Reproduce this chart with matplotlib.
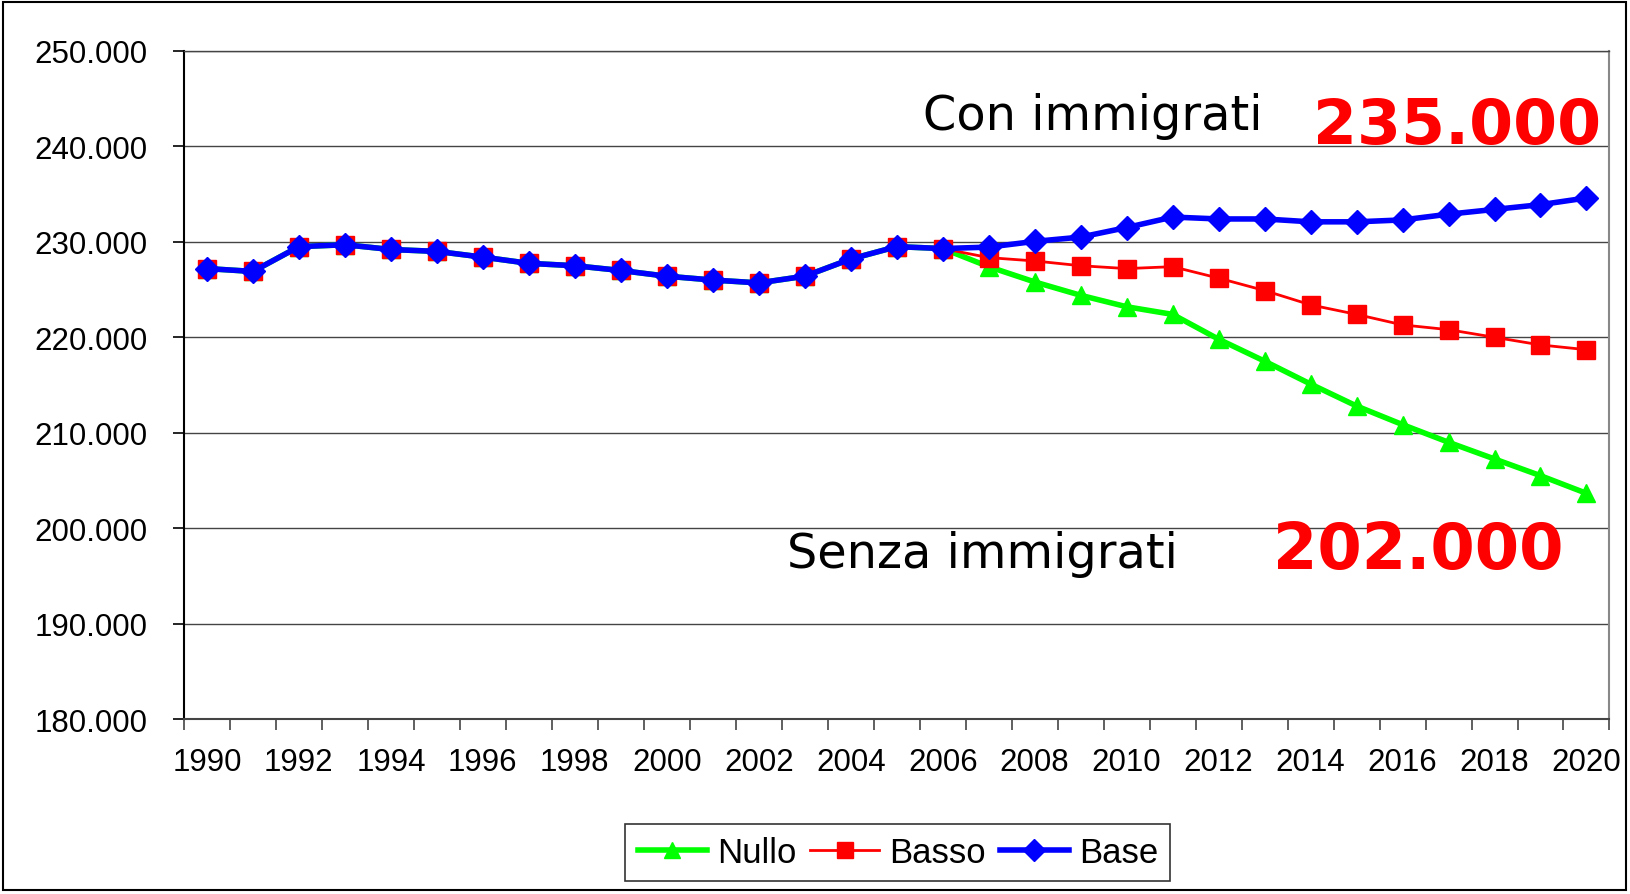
import matplotlib.pyplot as plt
from matplotlib.patches import Rectangle
from matplotlib.ticker import FuncFormatter

years = list(range(1990, 2021))

# 1990-2006: dati storici (uguali per tutti gli scenari)
storico = [227.2, 226.9, 229.5, 229.7, 229.2, 229.0, 228.4, 227.75, 227.5, 227.0,
           226.4, 226.0, 225.7, 226.4, 228.2, 229.5, 229.3]
# 2007-2020: proiezioni
base_proj = [229.45, 230.05, 230.5, 231.5, 232.6, 232.4, 232.4, 232.1, 232.1, 232.3,
             232.9, 233.4, 233.9, 234.6]
basso_proj = [228.35, 228.0, 227.5, 227.2, 227.4, 226.2, 224.9, 223.4, 222.4, 221.3,
              220.8, 220.0, 219.2, 218.7]
nullo_proj = [227.4, 225.8, 224.4, 223.2, 222.4, 219.8, 217.5, 215.1, 212.8, 210.85,
              209.0, 207.25, 205.5, 203.65]

base = [v * 1000 for v in storico + base_proj]
basso = [v * 1000 for v in storico + basso_proj]
nullo = [v * 1000 for v in storico + nullo_proj]

fig = plt.figure(figsize=(16.31, 8.95), dpi=100)
ax = fig.add_axes([0.1128, 0.1955, 0.8740, 0.7464])

x = list(range(len(years)))
ax.plot(x, nullo, color='#00FF00', lw=4, marker='^', ms=13, label='Nullo', zorder=3)
ax.plot(x, basso, color='#FF0000', lw=2, marker='s', ms=13, label='Basso', zorder=4)
ax.plot(x, base, color='#0000FF', lw=4, marker='D', ms=12, label='Base', zorder=5)

ax.set_xlim(-0.5, len(years) - 0.5)
ax.set_ylim(180000, 250000)
ax.set_yticks(range(180000, 250001, 10000))
ax.yaxis.set_major_formatter(FuncFormatter(lambda v, p: f"{int(v):,}".replace(",", ".")))

ax.set_xticks([i - 0.5 for i in range(len(years) + 1)])
ax.set_xticklabels([])
ax.set_xticks(x[::2], minor=True)
ax.set_xticklabels([str(y) for y in years[::2]], minor=True)

ax.tick_params(axis='x', which='major', direction='out', length=8, width=1.2, color='#444444')
ax.tick_params(axis='x', which='minor', length=0, pad=20, labelsize=22.5)
ax.tick_params(axis='y', direction='out', length=8, width=1.2, pad=18, labelsize=22.5)
for lab in ax.get_xticklabels(minor=True) + ax.get_yticklabels():
    lab.set_fontfamily('Liberation Sans')

ax.grid(axis='y', color='#444444', lw=1)
ax.set_axisbelow(True)
ax.spines['left'].set_color('black')
ax.spines['left'].set_linewidth(1.5)
ax.spines['bottom'].set_color('#444444')
ax.spines['bottom'].set_linewidth(1.5)
ax.spines['right'].set_color('#888888')
ax.spines['right'].set_linewidth(1.5)
ax.spines['top'].set_color('#444444')
ax.spines['top'].set_linewidth(1)

ax.text(0.5186, 0.903, 'Con immigrati', transform=ax.transAxes, fontsize=34.5,
        family='DejaVu Sans', va='center', ha='left')
ax.text(0.792, 0.888, '235.000', transform=ax.transAxes, fontsize=45.5,
        family='DejaVu Sans', weight='bold', color='#FF0000', va='center', ha='left')
ax.text(0.423, 0.248, 'Senza immigrati', transform=ax.transAxes, fontsize=34.5,
        family='DejaVu Sans', va='center', ha='left')
ax.text(0.764, 0.253, '202.000', transform=ax.transAxes, fontsize=46,
        family='DejaVu Sans', weight='bold', color='#FF0000', va='center', ha='left')

leg = fig.legend(loc='center', bbox_to_anchor=(0.5505, 0.0465), ncol=3, frameon=True,
                 fancybox=False, edgecolor='black', handlelength=2.0, columnspacing=0.4,
                 handletextpad=0.28, borderpad=0.35, borderaxespad=0.2,
                 prop={'family': 'Liberation Sans', 'size': 25}, markerscale=0.9)
leg.get_frame().set_linewidth(1.2)

fig.patches.append(Rectangle((0.002, 0.004), 0.995, 0.993, transform=fig.transFigure,
                             fill=False, edgecolor='black', lw=1.5))

fig.savefig('out.png', dpi=100)
